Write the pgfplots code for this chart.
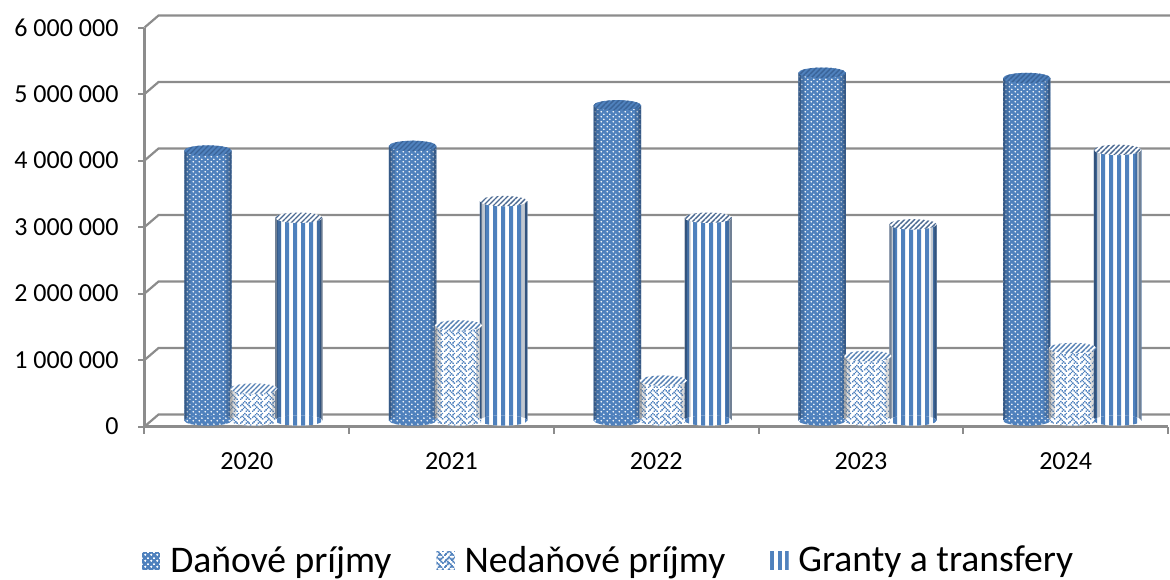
\documentclass[border=0pt]{standalone}
\usepackage{fontspec}
\setmainfont{Carlito}
\usepackage{pgfplots}
\usepackage{pgfplotstable}
\pgfplotsset{compat=1.18}
\usetikzlibrary{patterns}
\definecolor{bl}{HTML}{4F81BD}
\definecolor{dk}{HTML}{3A6398}
\definecolor{gr}{HTML}{8C8C8C}
\pgfdeclarepatternformonly{ddots}{\pgfqpoint{0pt}{0pt}}{\pgfqpoint{3pt}{2.7pt}}{\pgfqpoint{3pt}{2.7pt}}{%
 \pgfpathcircle{\pgfqpoint{0.75pt}{0.675pt}}{0.5pt}%
 \pgfpathcircle{\pgfqpoint{2.25pt}{2.025pt}}{0.5pt}%
 \pgfusepath{fill}}
\pgfdeclarepatternformonly{vstr}{\pgfqpoint{0pt}{0pt}}{\pgfqpoint{3.85pt}{60pt}}{\pgfqpoint{3.85pt}{60pt}}{%
 \pgfpathrectangle{\pgfqpoint{0pt}{-1pt}}{\pgfqpoint{2.1pt}{62pt}}%
 \pgfusepath{fill}}
\pgfdeclarepatternformonly{diagh}{\pgfqpoint{-0.1pt}{-0.1pt}}{\pgfqpoint{2.6pt}{2.6pt}}{\pgfqpoint{2.5pt}{2.5pt}}{%
 \pgfsetlinewidth{0.7pt}%
 \pgfpathmoveto{\pgfqpoint{0pt}{0pt}}\pgfpathlineto{\pgfqpoint{2.5pt}{2.5pt}}%
 \pgfusepath{stroke}}
\newcommand\wbit[2]{\pgfpathrectangle{\pgfpoint{#1*0.75pt}{(7-#2)*0.75pt}}{\pgfqpoint{0.78pt}{0.78pt}}}
\pgfdeclarepatternformonly{weave}{\pgfqpoint{0pt}{0pt}}{\pgfqpoint{6pt}{6pt}}{\pgfqpoint{6pt}{6pt}}{%
 \wbit{3}{0}\wbit{7}{0}%
 \wbit{2}{1}\wbit{4}{1}\wbit{6}{1}%
 \wbit{1}{2}\wbit{5}{2}%
 \wbit{0}{3}\wbit{2}{3}\wbit{6}{3}%
 \wbit{3}{4}\wbit{7}{4}%
 \wbit{2}{5}\wbit{4}{5}%
 \wbit{1}{6}\wbit{5}{6}%
 \wbit{0}{7}\wbit{4}{7}\wbit{6}{7}%
 \pgfusepath{fill}}
\newcommand\cylell{\pgfpathellipse{\pgfpointorigin}{\pgfqpoint{11.85pt}{0pt}}{\pgfqpoint{0pt}{2.6pt}}}
\pgfdeclareplotmark{topD}{\cylell\pgfsetfillcolor{bl}\pgfusepath{fill}\cylell\pgfsetfillpattern{diagh}{dk}\pgfusepath{fill}}
\pgfdeclareplotmark{topN}{\cylell\pgfsetfillcolor{white}\pgfusepath{fill}\cylell\pgfsetfillpattern{diagh}{bl!85!gray}\pgfusepath{fill}}
\pgfdeclareplotmark{topG}{\cylell\pgfsetfillcolor{white}\pgfusepath{fill}\cylell\pgfsetfillpattern{diagh}{dk!75!gray}\pgfusepath{fill}}
\pgfdeclareplotmark{botD}{\cylell\pgfsetfillcolor{bl}\pgfusepath{fill}\cylell\pgfsetfillpattern{ddots}{white}\pgfusepath{fill}}
\pgfdeclareplotmark{botN}{\cylell\pgfsetfillcolor{white}\pgfusepath{fill}\cylell\pgfsetfillpattern{weave}{bl}\pgfusepath{fill}}
\pgfdeclareplotmark{botG}{\cylell\pgfsetfillcolor{white}\pgfusepath{fill}\cylell\pgfsetfillpattern{vstr}{bl}\pgfusepath{fill}}
\newcommand\cyledges[3]{% table, x offset, dark colour
 \addplot[ybar,bar width=3pt,bar shift=-10.35pt,draw=none,fill=#3,fill opacity=.28,forget plot] table[x expr=\thisrow{c}+#2,y=v]{#1};
 \addplot[ybar,bar width=3pt,bar shift=10.35pt,draw=none,fill=#3,fill opacity=.28,forget plot] table[x expr=\thisrow{c}+#2,y=v]{#1};
 \addplot[ybar,bar width=1.2pt,bar shift=-11.25pt,draw=none,fill=#3,fill opacity=.5,forget plot] table[x expr=\thisrow{c}+#2,y=v]{#1};
 \addplot[ybar,bar width=1.2pt,bar shift=11.25pt,draw=none,fill=#3,fill opacity=.5,forget plot] table[x expr=\thisrow{c}+#2,y=v]{#1};
}
\pgfplotstableread{
c v
0 4060000
1 4130000
2 4740000
3 5230000
4 5150000
}\dan
\pgfplotstableread{
c v
0 480000
1 1430000
2 600000
3 970000
4 1090000
}\ned
\pgfplotstableread{
c v
0 3050000
1 3300000
2 3050000
3 2950000
4 4070000
}\gra
\begin{document}
\begin{tikzpicture}
\path[use as bounding box] (-72.25pt,-76.25pt) rectangle (512.75pt,213.25pt);
\begin{axis}[
 scale only axis,width=511.75pt,height=199.5pt,
 xmin=-0.5,xmax=4.5,ymin=-90000,ymax=5910000,
 clip=false,
 axis lines*=left,axis line style={gr,line width=1.1pt,-},
 tick style={gr,line width=1pt},
 tick align=outside,
 major tick length=3pt,minor tick length=3.5pt,
 scaled y ticks=false,
 ytick={-90000,910000,1910000,2910000,3910000,4910000,5910000},
 yticklabels={0,1 000 000,2 000 000,3 000 000,4 000 000,5 000 000,6 000 000},
 xtick={0,1,2,3,4},xticklabels={2020,2021,2022,2023,2024},
 major x tick style={draw=none},
 minor xtick={-0.5,0.5,1.5,2.5,3.5,4.5},
 yticklabel style={xshift=-6.5pt,font=\fontsize{13}{15}\selectfont},
 xticklabel style={yshift=-6.5pt,font=\fontsize{13}{15}\selectfont},
 legend columns=3,
 legend style={at={(0.4545,-0.336)},anchor=center,draw=none,fill=none,font=\fontsize{18.8}{22}\selectfont,
   /tikz/every odd column/.append style={column sep=3pt},
   /tikz/every even column/.append style={column sep=20.5pt}},
]
% back wall
\addplot[gr,line width=1.1pt,forget plot] coordinates {(-0.5,-90000)(-0.4316,90000)(4.51,90000)};
\addplot[gr,line width=1.1pt,forget plot] coordinates {(-0.5,910000)(-0.4316,1090000)(4.51,1090000)};
\addplot[gr,line width=1.1pt,forget plot] coordinates {(-0.5,1910000)(-0.4316,2090000)(4.51,2090000)};
\addplot[gr,line width=1.1pt,forget plot] coordinates {(-0.5,2910000)(-0.4316,3090000)(4.51,3090000)};
\addplot[gr,line width=1.1pt,forget plot] coordinates {(-0.5,3910000)(-0.4316,4090000)(4.51,4090000)};
\addplot[gr,line width=1.1pt,forget plot] coordinates {(-0.5,4910000)(-0.4316,5090000)(4.51,5090000)};
\addplot[gr,line width=1.1pt,forget plot] coordinates {(-0.5,5910000)(-0.4316,6090000)(4.51,6090000)};
% Danove
\addplot[only marks,mark=botD,forget plot] table[x expr=\thisrow{c}-0.19,y expr=0]{\dan};
\addplot[ybar,bar width=23.7pt,bar shift=0pt,draw=none,fill=bl,
  postaction={pattern=ddots,pattern color=white},
  area legend,legend image code/.code={\fill[bl] (0pt,-4.5pt) rectangle (9pt,4.5pt);\fill[pattern=ddots,pattern color=white] (0pt,-4.5pt) rectangle (9pt,4.5pt);}]
  table[x expr=\thisrow{c}-0.19,y=v]{\dan};
\addlegendentry{Daňové príjmy}
\cyledges{\dan}{-0.19}{dk!70!black}
\addplot[only marks,mark=topD,forget plot] table[x expr=\thisrow{c}-0.19,y=v]{\dan};
% Nedanove
\addplot[only marks,mark=botN,forget plot] table[x expr=\thisrow{c}+0.034,y expr=0]{\ned};
\addplot[ybar,bar width=23.7pt,bar shift=0pt,draw=none,fill=white,
  postaction={pattern=weave,pattern color=bl},
  area legend,legend image code/.code={\fill[white] (0pt,-4.5pt) rectangle (9pt,4.5pt);\fill[pattern=weave,pattern color=bl] (0pt,-4.5pt) rectangle (9pt,4.5pt);}]
  table[x expr=\thisrow{c}+0.034,y=v]{\ned};
\addlegendentry{Nedaňové príjmy}
\cyledges{\ned}{0.034}{gray}
\addplot[only marks,mark=topN,forget plot] table[x expr=\thisrow{c}+0.034,y=v]{\ned};
% Granty
\addplot[only marks,mark=botG,forget plot] table[x expr=\thisrow{c}+0.254,y expr=0]{\gra};
\addplot[ybar,bar width=23.7pt,bar shift=0pt,draw=none,fill=white,
  postaction={pattern=vstr,pattern color=bl},
  area legend,legend image code/.code={\fill[white] (0pt,-4.5pt) rectangle (9pt,4.5pt);\fill[pattern=vstr,pattern color=bl] (0pt,-4.5pt) rectangle (9pt,4.5pt);}]
  table[x expr=\thisrow{c}+0.254,y=v]{\gra};
\addlegendentry{Granty a transfery}
\cyledges{\gra}{0.254}{dk!60!black}
\addplot[only marks,mark=topG,forget plot] table[x expr=\thisrow{c}+0.254,y=v]{\gra};
\end{axis}
\end{tikzpicture}
\end{document}
